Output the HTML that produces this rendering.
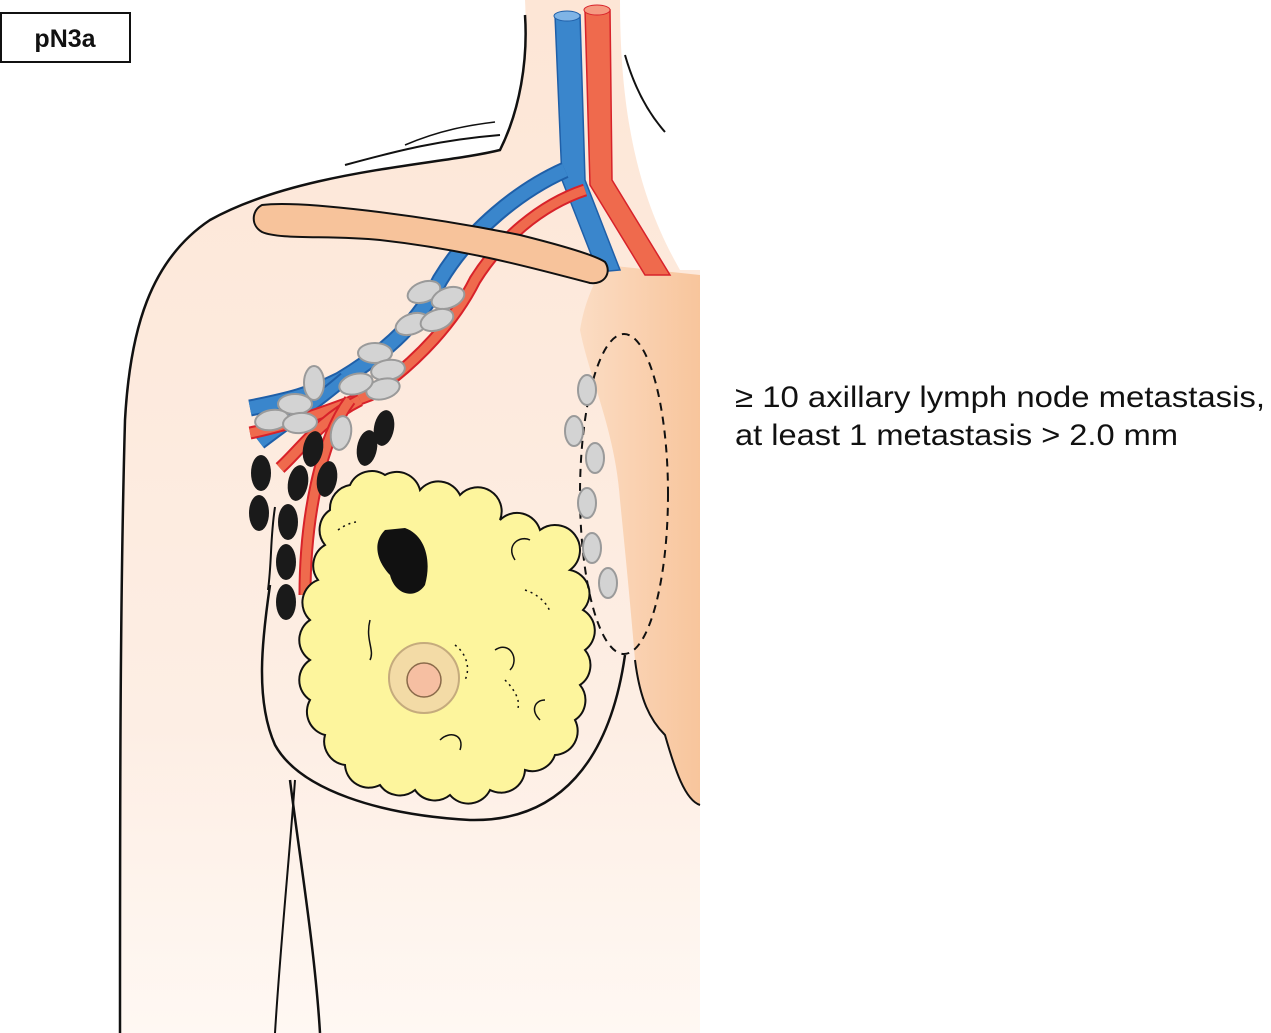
<!DOCTYPE html>
<html><head><meta charset="utf-8"><style>
html,body{margin:0;padding:0;background:#fff;}
svg{display:block}
</style></head><body>
<svg width="1271" height="1033" viewBox="0 0 1271 1033" xmlns="http://www.w3.org/2000/svg">
<defs>
<linearGradient id="skin" x1="0" y1="0" x2="0" y2="1">
<stop offset="0" stop-color="#fde6d6"/><stop offset="0.7" stop-color="#fdeee4"/><stop offset="1" stop-color="#fff8f3"/>
</linearGradient>
<linearGradient id="stern" x1="0" y1="0" x2="1" y2="0">
<stop offset="0" stop-color="#fbdcc3"/><stop offset="1" stop-color="#f8c59c"/>
</linearGradient>
</defs>
<path d="M525,0 C528,60 520,110 500,150 C440,165 300,170 210,220 C150,260 130,330 125,420 C120,600 120,800 120,1033 L700,1033 L700,270 L680,270 C640,200 620,120 620,0 Z" fill="url(#skin)"/>
<path d="M605,265 L700,275 L700,805 C685,800 675,770 665,735 C650,720 640,700 635,660 C630,600 625,550 620,500 C615,430 590,380 580,330 C585,300 595,280 605,265 Z" fill="url(#stern)"/>
<path d="M700,805 C685,800 675,770 665,735 C650,720 640,700 635,660" fill="none" stroke="#111" stroke-width="2"/>
<path d="M525,15 C528,60 520,110 500,150 C440,165 300,170 210,220 C150,260 130,330 125,420 C120,600 120,800 120,1033" fill="none" stroke="#111" stroke-width="2.5"/>
<path d="M625,55 C635,90 650,115 665,132" fill="none" stroke="#111" stroke-width="2"/>
<path d="M345,165 C400,150 440,140 500,135" fill="none" stroke="#111" stroke-width="2"/>
<path d="M405,145 C440,130 470,125 495,122" fill="none" stroke="#111" stroke-width="1.5"/>
<path d="M290,780 C300,860 315,950 320,1033" fill="none" stroke="#111" stroke-width="2.5"/>
<path d="M295,780 C290,850 280,950 275,1033" fill="none" stroke="#111" stroke-width="2"/>
<path d="M555,15 L580,15 L585,180 L620,270 L598,272 L562,180 Z" fill="#3a86cc" stroke="#1f5fa8" stroke-width="1.5"/>
<ellipse cx="567" cy="16" rx="13" ry="5" fill="#7fb4e6" stroke="#1f5fa8"/>
<path d="M585,10 L610,10 L612,180 L670,275 L645,275 L590,185 Z" fill="#ef6a4d" stroke="#d8222a" stroke-width="1.5"/>
<ellipse cx="597" cy="10" rx="13" ry="5" fill="#f59a82" stroke="#d8222a"/>
<path d="M565,170 C520,190 470,230 440,280 C420,320 390,350 340,380 C310,395 290,400 250,408" fill="none" stroke="#1f5fa8" stroke-width="17"/>
<path d="M565,170 C520,190 470,230 440,280 C420,320 390,350 340,380 C310,395 290,400 250,408" fill="none" stroke="#3a86cc" stroke-width="13"/>
<path d="M345,378 C320,400 290,420 260,443" fill="none" stroke="#1f5fa8" stroke-width="14"/>
<path d="M345,378 C320,400 290,420 260,443" fill="none" stroke="#3a86cc" stroke-width="10"/>
<path d="M585,190 C540,205 500,240 475,280 C455,320 420,360 370,395 C330,410 290,425 250,433" fill="none" stroke="#d8222a" stroke-width="13"/>
<path d="M585,190 C540,205 500,240 475,280 C455,320 420,360 370,395 C330,410 290,425 250,433" fill="none" stroke="#ef6a4d" stroke-width="9"/>
<path d="M360,400 C320,420 300,450 280,468" fill="none" stroke="#d8222a" stroke-width="13"/>
<path d="M360,400 C320,420 300,450 280,468" fill="none" stroke="#ef6a4d" stroke-width="9"/>
<path d="M350,400 C320,440 305,520 305,595" fill="none" stroke="#d8222a" stroke-width="13"/>
<path d="M350,400 C320,440 305,520 305,595" fill="none" stroke="#ef6a4d" stroke-width="9"/>
<path d="M262,205 C300,200 420,215 520,235 C560,245 595,255 605,262 C612,272 605,285 590,283 C540,270 470,250 380,240 C330,235 280,240 262,232 C250,225 252,210 262,205 Z" fill="#f7c39b" stroke="#111" stroke-width="2"/>
<g fill="#d3d3d3" stroke="#9a9a9a" stroke-width="2">
<ellipse cx="424" cy="292" rx="17" ry="10" transform="rotate(-20 424 292)"/>
<ellipse cx="448" cy="298" rx="17" ry="10" transform="rotate(-20 448 298)"/>
<ellipse cx="412" cy="324" rx="17" ry="10" transform="rotate(-20 412 324)"/>
<ellipse cx="437" cy="320" rx="17" ry="10" transform="rotate(-20 437 320)"/>
<ellipse cx="375" cy="353" rx="17" ry="10"/>
<ellipse cx="388" cy="370" rx="17" ry="10" transform="rotate(-10 388 370)"/>
<ellipse cx="383" cy="389" rx="17" ry="10" transform="rotate(-15 383 389)"/>
<ellipse cx="356" cy="384" rx="17" ry="10" transform="rotate(-15 356 384)"/>
<ellipse cx="314" cy="383" rx="10" ry="17"/>
<ellipse cx="295" cy="404" rx="17" ry="10"/>
<ellipse cx="272" cy="420" rx="17" ry="10" transform="rotate(-10 272 420)"/>
<ellipse cx="300" cy="423" rx="17" ry="10" transform="rotate(-5 300 423)"/>
<ellipse cx="341" cy="433" rx="10" ry="17" transform="rotate(10 341 433)"/>
</g>
<g fill="#1a1a1a">
<ellipse cx="384" cy="428" rx="10" ry="18" transform="rotate(10 384 428)"/>
<ellipse cx="367" cy="448" rx="10" ry="18" transform="rotate(10 367 448)"/>
<ellipse cx="313" cy="449" rx="10" ry="18" transform="rotate(10 313 449)"/>
<ellipse cx="298" cy="483" rx="10" ry="18" transform="rotate(10 298 483)"/>
<ellipse cx="327" cy="479" rx="10" ry="18" transform="rotate(10 327 479)"/>
<ellipse cx="261" cy="473" rx="10" ry="18"/>
<ellipse cx="259" cy="513" rx="10" ry="18"/>
<ellipse cx="288" cy="522" rx="10" ry="18"/>
<ellipse cx="286" cy="562" rx="10" ry="18"/>
<ellipse cx="286" cy="602" rx="10" ry="18"/>
</g>
<path d="M275,507 C270,540 272,560 268,590" fill="none" stroke="#111" stroke-width="2"/>
<path d="M270,585 C262,640 255,700 275,745 C300,790 380,815 470,820 C560,822 610,760 625,655" fill="none" stroke="#111" stroke-width="2.5"/>
<path d="M350,485 A24,24 0 0 1 385,475 A24,24 0 0 1 420,490 A24,24 0 0 1 460,495 A24,24 0 0 1 500,520 A24,24 0 0 1 540,530 A24,24 0 0 1 570,570 A24,24 0 0 1 583,610 A24,24 0 0 1 585,650 A24,24 0 0 1 580,685 A24,24 0 0 1 575,720 A24,24 0 0 1 555,755 A24,24 0 0 1 525,770 A24,24 0 0 1 490,790 A24,24 0 0 1 450,795 A24,24 0 0 1 415,790 A24,24 0 0 1 380,785 A24,24 0 0 1 345,765 A24,24 0 0 1 325,735 A24,24 0 0 1 310,700 A24,24 0 0 1 310,660 A24,24 0 0 1 310,620 A24,24 0 0 1 318,580 A24,24 0 0 1 325,545 A24,24 0 0 1 330,510 A24,24 0 0 1 350,485 Z" fill="#fdf59d" stroke="#111" stroke-width="2"/>
<g fill="none" stroke="#111" stroke-width="1.5">
<path d="M515,560 C505,545 520,535 530,540"/>
<path d="M495,650 C510,640 520,660 510,670"/>
<path d="M370,620 C365,640 375,650 370,660"/>
<path d="M440,740 C450,730 465,735 460,750"/>
<path d="M540,720 C530,710 535,700 545,700"/>
</g>
<g fill="none" stroke="#111" stroke-width="1.5" stroke-dasharray="2,4">
<path d="M455,645 C468,655 470,670 465,680"/>
<path d="M525,590 C540,595 548,605 550,612"/>
<path d="M505,680 C515,690 520,700 518,708"/>
<path d="M338,530 C345,525 350,523 356,522"/>
</g>
<path d="M385,530 C370,545 380,565 390,575 C395,595 415,600 425,585 C432,560 425,535 405,528 Z" fill="#111"/>
<circle cx="424" cy="678" r="35" fill="#f3d9a8" stroke="#bfa37a" stroke-width="2" opacity="0.9"/>
<circle cx="424" cy="680" r="17" fill="#f6bfa2" stroke="#8a6a4a" stroke-width="1.5"/>
<ellipse cx="624" cy="494" rx="44" ry="160" fill="none" stroke="#111" stroke-width="2" stroke-dasharray="8,6"/>
<g fill="#d3d3d3" stroke="#9a9a9a" stroke-width="2">
<ellipse cx="587" cy="390" rx="9" ry="15"/>
<ellipse cx="574" cy="431" rx="9" ry="15"/>
<ellipse cx="595" cy="458" rx="9" ry="15"/>
<ellipse cx="587" cy="503" rx="9" ry="15"/>
<ellipse cx="592" cy="548" rx="9" ry="15"/>
<ellipse cx="608" cy="583" rx="9" ry="15"/>
</g>
<rect x="1" y="13" width="129" height="49" fill="#fff" stroke="#111" stroke-width="2"/>
<text x="65" y="47" text-anchor="middle" font-family="Liberation Sans, sans-serif" font-weight="bold" font-size="25" fill="#111">pN3a</text>
<text x="735" y="407" font-family="Liberation Sans, sans-serif" font-size="30" fill="#111" textLength="530" lengthAdjust="spacingAndGlyphs">≥ 10 axillary lymph node metastasis,</text>
<text x="735" y="445" font-family="Liberation Sans, sans-serif" font-size="30" fill="#111" textLength="443" lengthAdjust="spacingAndGlyphs">at least 1 metastasis &gt; 2.0 mm</text>
</svg>
</body></html>
